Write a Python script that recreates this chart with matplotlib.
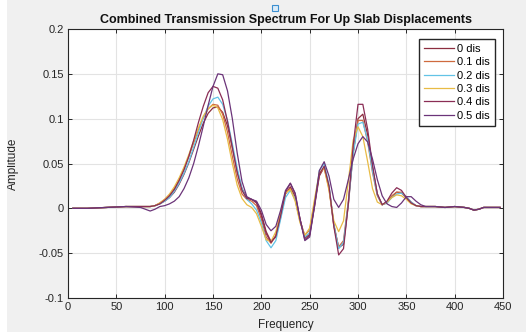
import matplotlib.pyplot as plt
from matplotlib.patches import Rectangle

# frequency grid (dense where the curves move)
freq = [5, 20, 40, 60, 75] + list(range(80, 385, 5)) + [390, 400, 410, 415, 420, 425, 430, 440, 447]

head = [0.0, 0.0, 0.001, 0.002, 0.002]
tail = [0.001, 0.002, 0.001, 0.0, -0.002, -0.001, 0.001, 0.001, 0.001]

dis_0 = head + [
    0.002, 0.002, 0.003, 0.005, 0.008, 0.012, 0.018, 0.027, 0.038, 0.051,
    0.066, 0.081, 0.095, 0.106, 0.112, 0.113, 0.107, 0.092, 0.068, 0.042,
    0.022, 0.012, 0.010, 0.007, -0.006, -0.026, -0.037, -0.032, -0.010, 0.016,
    0.024, 0.013, -0.012, -0.033, -0.029, 0.002, 0.036, 0.046, 0.024, -0.018,
    -0.044, -0.040, 0.004, 0.062, 0.100, 0.105, 0.082, 0.046, 0.016, 0.004,
    0.006, 0.013, 0.018, 0.017, 0.012, 0.006, 0.003, 0.002, 0.002, 0.002, 0.002,
] + tail

dis_01 = head + [
    0.002, 0.002, 0.003, 0.006, 0.010, 0.015, 0.022, 0.032, 0.044, 0.058,
    0.073, 0.088, 0.101, 0.111, 0.116, 0.115, 0.105, 0.085, 0.058, 0.033,
    0.016, 0.010, 0.008, 0.003, -0.012, -0.032, -0.039, -0.030, -0.006, 0.017,
    0.022, 0.010, -0.014, -0.030, -0.024, 0.006, 0.038, 0.045, 0.022, -0.020,
    -0.043, -0.036, 0.008, 0.062, 0.098, 0.098, 0.074, 0.040, 0.014, 0.004,
    0.007, 0.014, 0.018, 0.018, 0.013, 0.007, 0.003, 0.002, 0.002, 0.002, 0.002,
] + tail

dis_02 = head + [
    0.002, 0.002, 0.003, 0.005, 0.008, 0.012, 0.019, 0.028, 0.039, 0.052,
    0.068, 0.085, 0.101, 0.114, 0.122, 0.124, 0.116, 0.098, 0.072, 0.045,
    0.022, 0.010, 0.005, -0.002, -0.016, -0.036, -0.044, -0.036, -0.012, 0.012,
    0.020, 0.010, -0.014, -0.032, -0.027, 0.006, 0.042, 0.050, 0.026, -0.018,
    -0.045, -0.038, 0.006, 0.060, 0.094, 0.096, 0.076, 0.042, 0.015, 0.004,
    0.006, 0.012, 0.016, 0.017, 0.013, 0.007, 0.003, 0.002, 0.002, 0.002, 0.002,
] + tail

dis_03 = head + [
    0.002, 0.002, 0.003, 0.006, 0.010, 0.016, 0.024, 0.034, 0.046, 0.060,
    0.075, 0.090, 0.103, 0.111, 0.115, 0.112, 0.099, 0.077, 0.050, 0.026,
    0.011, 0.004, 0.001, -0.006, -0.020, -0.035, -0.037, -0.026, -0.004, 0.017,
    0.021, 0.008, -0.016, -0.030, -0.022, 0.010, 0.040, 0.045, 0.020, -0.014,
    -0.026, -0.014, 0.030, 0.076, 0.091, 0.080, 0.052, 0.022, 0.007, 0.004,
    0.007, 0.012, 0.015, 0.014, 0.010, 0.005, 0.003, 0.002, 0.002, 0.002, 0.002,
] + tail

dis_04 = head + [
    0.002, 0.002, 0.003, 0.005, 0.009, 0.014, 0.021, 0.031, 0.043, 0.058,
    0.076, 0.096, 0.114, 0.129, 0.136, 0.134, 0.121, 0.097, 0.068, 0.040,
    0.020, 0.011, 0.010, 0.006, -0.008, -0.028, -0.038, -0.031, -0.008, 0.018,
    0.028, 0.016, -0.012, -0.035, -0.030, 0.004, 0.038, 0.047, 0.025, -0.020,
    -0.052, -0.045, 0.005, 0.070, 0.116, 0.116, 0.088, 0.048, 0.016, 0.004,
    0.008, 0.017, 0.023, 0.020, 0.012, 0.006, 0.003, 0.002, 0.002, 0.002, 0.002,
] + tail

dis_05 = [0.0, 0.0, 0.001, 0.002, 0.001] + [
    -0.001, -0.003, -0.001, 0.002, 0.003, 0.005, 0.008, 0.013, 0.022, 0.034,
    0.050, 0.070, 0.092, 0.115, 0.136, 0.150, 0.149, 0.131, 0.100, 0.062,
    0.030, 0.013, 0.010, 0.008, -0.002, -0.018, -0.025, -0.020, -0.002, 0.020,
    0.028, 0.017, -0.012, -0.036, -0.032, 0.002, 0.042, 0.052, 0.036, 0.010,
    0.001, 0.010, 0.032, 0.055, 0.072, 0.080, 0.074, 0.055, 0.032, 0.014,
    0.005, 0.002, 0.001, 0.006, 0.013, 0.013, 0.008, 0.004, 0.002, 0.002, 0.002,
] + tail

series = [dis_0, dis_01, dis_02, dis_03, dis_04, dis_05]
labels = ["0 dis", "0.1 dis", "0.2 dis", "0.3 dis", "0.4 dis", "0.5 dis"]
colors = ["#8c2d3f", "#cf6a3e", "#62c3e6", "#e8bb45", "#8a2d55", "#6b3479"]

plt.rcParams["font.family"] = ["Liberation Sans", "DejaVu Sans"]

fig = plt.figure(figsize=(5.26, 3.32), dpi=100, facecolor="#f0f0f0")
fig.add_artist(Rectangle((0, 0), 7 / 526, 1, transform=fig.transFigure,
                         facecolor="white", edgecolor="none"))
ax = fig.add_axes([68 / 526, 34 / 332, 435 / 526, 269 / 332])

for values, label, color in zip(series, labels, colors):
    ax.plot(freq, values, color=color, lw=0.9, label=label)

ax.set_xlim(0, 450)
ax.set_ylim(-0.1, 0.2)
ax.set_xticks(range(0, 451, 50))
ax.set_yticks([-0.1, -0.05, 0, 0.05, 0.1, 0.15, 0.2])
ax.set_yticklabels(["-0.1", "-0.05", "0", "0.05", "0.1", "0.15", "0.2"])
ax.grid(True, color="#e3e3e3", lw=0.8)
ax.set_axisbelow(True)
ax.tick_params(direction="in", top=True, right=True, length=3, width=0.7,
               labelsize=8, colors="#262626", pad=3)
for spine in ax.spines.values():
    spine.set_color("#262626")
    spine.set_linewidth(0.8)

ax.set_title("Combined Transmission Spectrum For Up Slab Displacements",
             fontsize=9, fontweight="bold", color="#111111", pad=4)
ax.set_xlabel("Frequency", fontsize=8.5, color="#262626", labelpad=5)
ax.set_ylabel("Amplitude", fontsize=8.5, color="#262626", labelpad=14)

ax.legend(loc="upper right", bbox_to_anchor=(0.982, 0.963), borderaxespad=0,
          fontsize=8, handlelength=2.7, handletextpad=0.3, labelspacing=0.3,
          borderpad=0.45, fancybox=False, framealpha=1, edgecolor="#262626")

# small selection markers seen in the screenshot
fig.add_artist(Rectangle((272 / 526, 1 - 11 / 332), 6 / 526, 6 / 332,
                         transform=fig.transFigure, facecolor="#dcecf8",
                         edgecolor="#3c8fd0", lw=0.8))

fig.savefig("out.png", dpi=100, facecolor=fig.get_facecolor())
